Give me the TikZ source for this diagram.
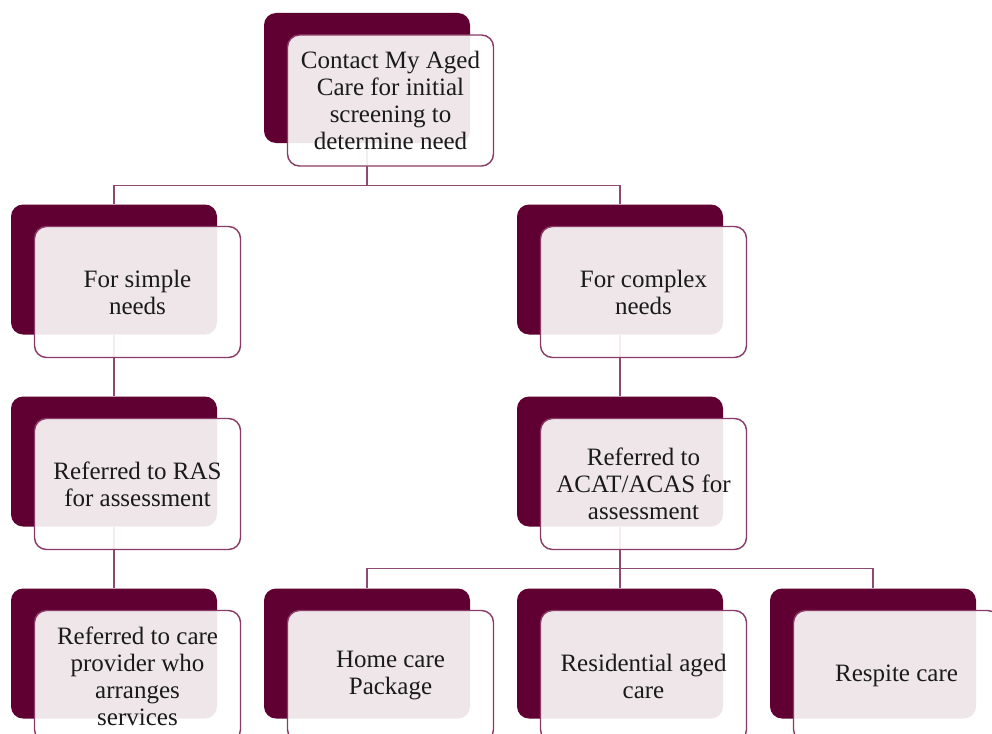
\documentclass[tikz,border=0pt]{standalone}
\usepackage{fontspec}
\setmainfont{Liberation Serif}
\definecolor{darkm}{HTML}{600032}
\definecolor{outm}{HTML}{8A3A66}
\definecolor{linem}{HTML}{8E4A70}
\definecolor{txt}{HTML}{1A1A1A}
\tikzset{
  backbox/.style={draw=none, fill=darkm, rounded corners=12pt, minimum width=206pt, minimum height=130pt, inner sep=0pt},
  frontbox/.style={draw=outm, line width=1.4pt, fill=white, fill opacity=0.9, draw opacity=1, text opacity=1,
    rounded corners=12pt, minimum width=206pt, minimum height=131pt, inner sep=0pt,
    align=center, text=txt, font=\fontsize{25}{27}\selectfont},
  conn/.style={draw=linem, line width=1.4pt}
}
\begin{document}
\begin{tikzpicture}[x=1pt,y=-1pt]
\useasboundingbox (0,0) rectangle (992,733);
\clip (0,0) rectangle (992,733);
% back boxes
\node[backbox] (d0) at (367,78) {};
\node[backbox] (d1) at (114,269.5) {};
\node[backbox] (d2) at (620,269.5) {};
\node[backbox] (d3) at (114,461.5) {};
\node[backbox] (d4) at (620,461.5) {};
\node[backbox] (d5) at (114,653.5) {};
\node[backbox] (d6) at (367,653.5) {};
\node[backbox] (d7) at (620,653.5) {};
\node[backbox] (d8) at (873,653.5) {};
% connectors
\draw[conn] (d0.south) -- ++(0,42) -| (d1.north);
\draw[conn] (d0.south) -- ++(0,42) -| (d2.north);
\draw[conn] (d1.south) -- (d3.north);
\draw[conn] (d2.south) -- (d4.north);
\draw[conn] (d3.south) -- (d5.north);
\draw[conn] (d4.south) -- ++(0,42) -| (d6.north);
\draw[conn] (d4.south) -- ++(0,42) -| (d8.north);
\draw[conn] (d4.south) -- (d7.north);
% front boxes
\node[frontbox] (l0) at (390.5,100.5) {Contact My Aged\\Care for initial\\screening to\\determine need};
\node[frontbox] (l1) at (137.5,292) {For simple\\needs};
\node[frontbox] (l2) at (643.5,292) {For complex\\needs};
\node[frontbox] (l3) at (137.5,484) {Referred to RAS\\for assessment};
\node[frontbox] (l4) at (643.5,484) {Referred to\\ACAT/ACAS for\\assessment};
\node[frontbox] (l5) at (137.5,676) {Referred to care\\provider who\\arranges\\services};
\node[frontbox] (l6) at (390.5,676) {Home care\\Package};
\node[frontbox] (l7) at (643.5,676) {Residential aged\\care};
\node[frontbox] (l8) at (896.5,676) {Respite care};
\end{tikzpicture}
\end{document}
